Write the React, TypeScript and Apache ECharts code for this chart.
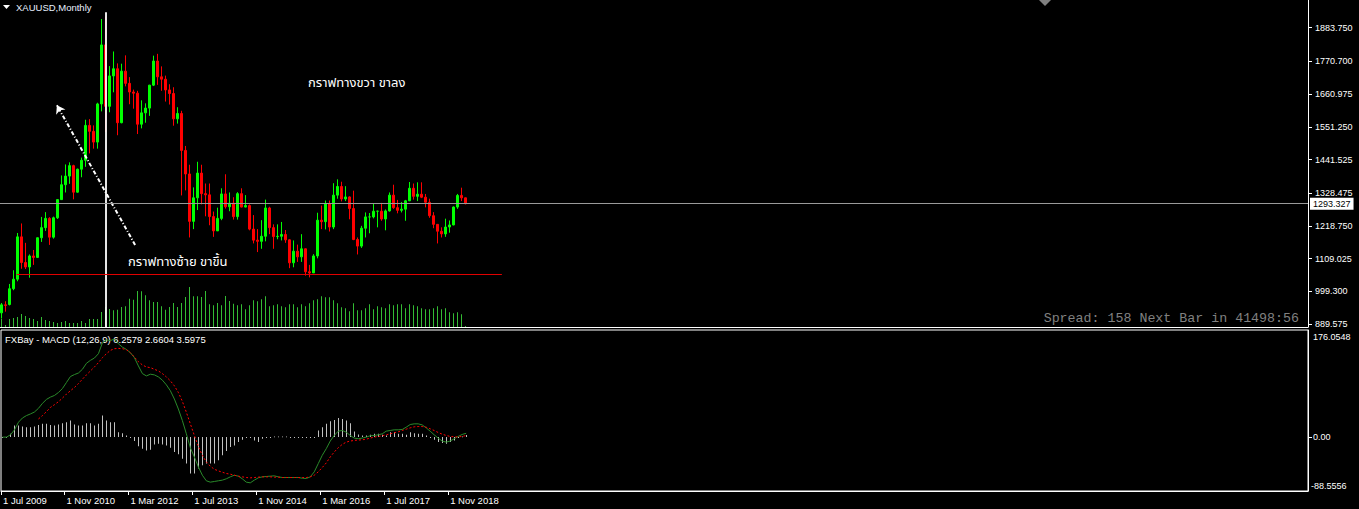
import React, { useEffect, useRef } from "react";
import * as echarts from "echarts";

// ---- XAUUSD monthly, Jul 2009 .. Mar 2019 (117 bars) ----
const opens = [
  927, 954, 955, 1008, 1040, 1182, 1096, 1081, 1118, 1113, 1179, 1213, 1244, 1181, 1246, 1307, 1357, 1386,
  1421, 1332, 1409, 1439, 1556, 1536, 1500, 1628, 1826, 1620, 1722, 1746,
  1565, 1738, 1697, 1668, 1664, 1560, 1598, 1614, 1691, 1772, 1719, 1711,
  1675, 1663, 1578, 1596, 1472, 1393, 1234, 1313, 1396, 1327, 1323, 1250,
  1202, 1244, 1326, 1283, 1295, 1250, 1327, 1282, 1287, 1208, 1171, 1167,
  1184, 1279, 1213, 1183, 1184, 1190, 1172, 1095, 1134, 1115, 1142, 1065,
  1061, 1118, 1238, 1233, 1293, 1215, 1322, 1351, 1309, 1316, 1277, 1173,
  1151, 1211, 1249, 1249, 1268, 1268, 1242, 1269, 1322, 1280, 1271, 1275,
  1303, 1345, 1318, 1325, 1315, 1298, 1253, 1224, 1201, 1192, 1215, 1222,
  1282, 1321, 1313,
];
const highs = [
  960, 966, 1024, 1070, 1195, 1227, 1162, 1123, 1138, 1180, 1249, 1265, 1248, 1250, 1308, 1388, 1425, 1432,
  1424, 1411, 1448, 1575, 1577, 1556, 1632, 1913, 1921, 1755, 1804, 1764,
  1763, 1791, 1718, 1676, 1672, 1640, 1630, 1692, 1790, 1796, 1754, 1723,
  1694, 1684, 1617, 1605, 1487, 1424, 1348, 1434, 1424, 1361, 1361, 1267,
  1280, 1345, 1392, 1331, 1315, 1332, 1345, 1322, 1291, 1255, 1208, 1238,
  1307, 1283, 1224, 1224, 1232, 1205, 1174, 1170, 1156, 1191, 1143, 1088,
  1124, 1263, 1287, 1304, 1304, 1362, 1375, 1367, 1352, 1318, 1337, 1180,
  1219, 1264, 1262, 1295, 1270, 1296, 1274, 1331, 1357, 1306, 1299, 1306,
  1366, 1361, 1365, 1365, 1326, 1310, 1265, 1225, 1214, 1243, 1237, 1284,
  1326, 1347, 1314,
];
const lows = [
  908, 931, 952, 1003, 1033, 1075, 1074, 1045, 1088, 1111, 1165, 1202, 1155, 1176, 1242, 1306, 1331, 1360,
  1308, 1330, 1382, 1417, 1462, 1478, 1478, 1603, 1534, 1600, 1667, 1523,
  1563, 1687, 1627, 1612, 1527, 1546, 1565, 1588, 1688, 1692, 1672, 1636,
  1626, 1555, 1562, 1321, 1338, 1180, 1208, 1272, 1291, 1251, 1221, 1182,
  1202, 1238, 1277, 1268, 1240, 1240, 1281, 1281, 1204, 1160, 1131, 1142,
  1167, 1191, 1142, 1174, 1170, 1162, 1077, 1080, 1098, 1098, 1052, 1046,
  1061, 1110, 1208, 1207, 1200, 1208, 1310, 1301, 1302, 1241, 1171, 1123,
  1145, 1180, 1194, 1244, 1214, 1236, 1204, 1267, 1276, 1261, 1264, 1236,
  1302, 1307, 1302, 1312, 1281, 1246, 1211, 1160, 1180, 1182, 1196, 1221,
  1276, 1302, 1291,
];
const closes = [
  954, 952, 1008, 1040, 1182, 1096, 1081, 1118, 1113, 1179, 1213, 1244, 1181, 1246, 1307, 1357, 1386, 1421,
  1332, 1409, 1439, 1556, 1536, 1500, 1628, 1826, 1620, 1722, 1746, 1565,
  1738, 1697, 1668, 1664, 1560, 1598, 1614, 1691, 1772, 1719, 1711, 1675,
  1663, 1578, 1596, 1472, 1393, 1234, 1313, 1396, 1327, 1323, 1250, 1202,
  1244, 1326, 1283, 1295, 1250, 1327, 1282, 1287, 1208, 1171, 1167, 1184,
  1279, 1213, 1183, 1184, 1190, 1172, 1095, 1134, 1115, 1142, 1065, 1061,
  1118, 1238, 1233, 1293, 1215, 1322, 1351, 1309, 1316, 1277, 1173, 1151,
  1211, 1249, 1249, 1268, 1268, 1242, 1269, 1322, 1280, 1271, 1275, 1303,
  1345, 1318, 1325, 1315, 1298, 1253, 1224, 1201, 1192, 1215, 1222, 1282,
  1321, 1313, 1293.327,
];
// tick volume (relative units)
const volumes = [
  8, 2, 8, 9, 10, 13, 11, 9, 8, 6, 10, 7, 6, 5, 4, 5, 6, 4, 4, 4,
  6, 4, 8, 8, 8, 15, 20, 18, 16.7, 17.3, 20, 20.7, 28.3, 27.3, 36, 35.7, 31.7, 26.7, 25, 25,
  20.7, 17.3, 20, 24, 20, 24, 30, 40, 30.7, 30.7, 30, 36, 22.7, 21.7, 24, 21.7, 31, 26, 23.3, 21.7,
  22.7, 17.7, 21.7, 26.7, 25.7, 27.7, 30.7, 20.7, 21.7, 22.7, 20.7, 19.7, 22.7, 22.7, 19.7, 22.7, 20.7, 23.7, 26.7, 27.7,
  30.7, 29.7, 29.7, 26.7, 23.7, 19.7, 18.7, 15.7, 23.7, 16.7, 16.7, 18.7, 22.7, 17.7, 20.7, 19.7, 18.7, 22.7, 21.7, 22.7,
  22.7, 18.7, 22.7, 21.7, 20.7, 18.7, 17.7, 17.7, 18.7, 20.7, 17.7, 18.7, 14.7, 13.7, 14.7, 12.7, 1,
];
// MACD (12,26,9) main line
const macdMain = [
  0, 0, 3.8, 12.0, 24.5, 31.5, 35.4, 38.1, 41.3, 47.3, 55.5, 62.0, 65.8, 68.5, 73.4, 79.9, 89.8, 99.6, 102.8, 105.4,
  111.5, 121.3, 126.2, 130.0, 137.1, 155.0, 159.9, 158.8, 161.0, 153.4, 147.9, 144.2, 138.7, 130.6, 117.0, 104.4, 100.6, 103.4, 102.3, 99.0,
  93.6, 85.9, 76.2, 62.6, 46.2, 27.2, 5.4, -17.4, -32.6, -48.9, -62.6, -71.8, -74.0, -72.9, -71.8, -70.7, -68.5, -65.3, -62.6, -64.2,
  -68.5, -74.0, -75.1, -70.7, -66.9, -65.3, -64.7, -64.2, -63.6, -65.3, -66.4, -66.4, -66.4, -66.4, -66.4, -67.5, -68.0, -65.3, -57.1, -43.5,
  -29.9, -19.0, -6.5, 2.7, 9.8, 10.9, 8.2, 2.7, -1.6, -2.7, -1.6, 0, 2.2, 2.7, 3.8, 5.4, 9.8, 10.9, 12.0, 12.0,
  12.5, 16.3, 20.7, 21.8, 21.8, 20.1, 15.2, 9.8, 3.8, -1.6, -6.5, -8.2, -6.5, -2.7, 1.1, 4.4, 6.2579,
];
// signal line (starts at bar 9)
const macdSignal = [
  null, null, null, null, null, null, null, null, null, 29.9, 35.4, 41.9, 48.9, 53.3, 58.2, 64.2, 70.7, 76.2, 81.6, 88.1,
  95.2, 102.3, 108.8, 115.3, 122.4, 130.6, 137.1, 142.6, 145.3, 145.8, 145.3, 143.6, 138.7, 131.6, 124.0, 118.6, 115.3, 114.2, 111.5, 108.8,
  104.4, 99.0, 92.5, 84.3, 73.4, 58.8, 40.8, 21.8, 2.7, -15.2, -29.9, -40.8, -47.9, -52.8, -55.5, -57.7, -59.8, -60.9, -62.6, -64.2,
  -65.3, -66.4, -66.9, -66.4, -65.8, -65.3, -65.3, -65.3, -65.8, -65.8, -66.4, -66.4, -66.4, -66.4, -66.4, -66.4, -66.4, -65.3, -62.6, -57.1,
  -50.0, -42.4, -32.6, -24.5, -17.4, -12.0, -8.2, -6.5, -5.4, -4.9, -4.4, -3.3, -1.6, 0, 1.1, 2.2, 3.8, 5.4, 7.1, 8.7,
  10.9, 13.1, 15.2, 16.9, 17.4, 17.4, 16.3, 13.6, 10.9, 7.6, 4.9, 2.7, 1.1, 0.5, 0.5, 1.1, 2.6604,
];
// histogram
const macdHist = [
  0, 0, 5.4, 19.0, 19.0, 17.4, 16.3, 16.3, 17.4, 20.1, 21.8, 21.8, 20.1, 19.0, 20.7, 22.8, 24.5, 27.2, 20.7, 19.0,
  19.0, 22.8, 22.8, 19.0, 21.8, 35.4, 27.2, 24.5, 24.5, 8.2, 6.5, 2.7, 0, -6.5, -15.2, -19.0, -21.8, -20.7, -12.0, -10.9,
  -12.0, -13.6, -17.4, -24.5, -28.3, -35.4, -43.5, -59.8, -59.8, -51.7, -46.2, -43.5, -43.5, -43.5, -38.1, -29.9, -22.8, -16.3, -13.6, -8.2,
  -4.4, -1.6, -1.1, -5.4, -8.2, -2.7, -1.6, 0, 1.1, 1.1, 1.1, 1.1, 0, -1.1, 0, 0, 0, 0, -1.6, 10.9,
  16.3, 21.8, 26.1, 28.3, 31.6, 29.9, 27.2, 22.8, 9.2, 4.4, 2.7, 2.7, 3.8, 5.4, 5.4, 3.8, 2.7, 8.2, 8.2, 5.4,
  5.4, 3.8, 8.2, 6.5, 5.4, 5.4, 2.7, 0, -4.4, -8.2, -9.8, -10.9, -8.2, -5.4, -1.6, 1.1, 3.5975,
];

const priceTicks = [889.575, 999.3, 1109.025, 1218.75, 1328.475, 1441.525, 1551.25, 1660.975, 1770.7, 1883.75];
const xTickIdx = [0, 16, 32, 48, 64, 80, 96, 112];
const xTickLabels = ["1 Jul 2009", "1 Nov 2010", "1 Mar 2012", "1 Jul 2013", "1 Nov 2014", "1 Mar 2016", "1 Jul 2017", "1 Nov 2018"];
const macdMax = 176.0548;
const macdMin = -88.5556;
const bidPrice = 1293.327;
const supportLevel = 1056;

const FONT = '"Liberation Sans", Arial, sans-serif';
const THAI = '"Noto Sans Thai", "Noto Sans Thai UI", "Loma", "Garuda", "Noto Sans", "DejaVu Sans", sans-serif';

function stickRenderer(color: string) {
  return (params: any, api: any) => {
    const x = api.value(0);
    const v = api.value(1);
    const p = api.coord([x, v]);
    const b = api.coord([x, 0]);
    const top = Math.min(p[1], b[1]);
    const h = Math.max(Math.abs(b[1] - p[1]), 0.8);
    return {
      type: "rect",
      shape: { x: Math.floor(p[0]), y: top, width: 1, height: h },
      style: { fill: color },
      silent: true,
    };
  };
}

export default function App() {
  const ref = useRef<HTMLDivElement>(null);
  useEffect(() => {
    const chart = echarts.init(ref.current!, null, { renderer: "svg" });
    const xMin = -0.375;
    const xMax = 326.625;
    const pMin = 879.6;
    const pMax = 1976.7;
    const candles = closes.map((c, i) => [i, opens[i], c, lows[i], highs[i]]);
    const vols = volumes.map((v, i) => [i, v]);
    const mainL = macdMain.map((v, i) => [i, v]);
    const sigL = macdSignal.map((v, i) => (v === null ? [i, null] : [i, v]));
    const hist = macdHist.map((v, i) => [i, v]);
    const xTickPos = xTickIdx.map((i) => (i === 0 ? xMin : i - 0.5));
    const hidden = { show: false };

    const option: any = {
      animation: false,
      backgroundColor: "#000",
      textStyle: { fontFamily: FONT },
      grid: [
        { left: 0, right: 51, top: 0, height: 327, show: false },
        { left: 0, right: 51, top: 330, height: 161, show: true, borderColor: "#fff", borderWidth: 1, backgroundColor: "transparent" },
      ],
      xAxis: [
        {
          type: "value", gridIndex: 0, min: xMin, max: xMax, position: "bottom",
          axisLine: { show: true, onZero: false, lineStyle: { color: "#fff", width: 1 } },
          axisTick: hidden, axisLabel: hidden, splitLine: hidden,
        },
        {
          type: "value", gridIndex: 1, min: xMin, max: xMax, position: "bottom",
          axisLine: { show: true, onZero: false, lineStyle: { color: "#fff", width: 1 } },
          axisTick: { show: true, customValues: xTickPos, length: 4, inside: false, lineStyle: { color: "#fff" } },
          axisLabel: {
            show: true, customValues: xTickPos, color: "#fff", fontSize: 9.5, fontFamily: FONT, align: "left", margin: 4,
            padding: [0, 0, 0, 2],
            formatter: (v: number) => xTickLabels[Math.round((v + 0.5) / 16)] ?? "",
          },
          splitLine: hidden,
        },
      ],
      yAxis: [
        {
          type: "value", gridIndex: 0, position: "right", min: pMin, max: pMax,
          axisLine: { show: true, onZero: false, lineStyle: { color: "#fff" } },
          axisTick: { show: true, customValues: priceTicks, length: 4, lineStyle: { color: "#fff" } },
          axisLabel: {
            show: true, customValues: priceTicks, color: "#fff", fontSize: 9, fontFamily: FONT, margin: 7,
            formatter: (v: number) => v.toFixed(3),
          },
          splitLine: hidden,
        },
        {
          type: "value", gridIndex: 0, position: "right", min: 0, max: 327, show: false,
          axisLine: hidden, axisTick: hidden, axisLabel: hidden, splitLine: hidden,
        },
        {
          type: "value", gridIndex: 1, position: "right", min: macdMin, max: macdMax,
          axisLine: { show: true, onZero: false, lineStyle: { color: "#fff" } },
          axisTick: { show: true, customValues: [0], length: 4, lineStyle: { color: "#fff" } },
          axisLabel: {
            show: true, customValues: [0], color: "#fff", fontSize: 9, fontFamily: FONT, margin: 5,
            formatter: (v: number) => v.toFixed(2),
          },
          splitLine: hidden,
        },
      ],
      series: [
        {
          type: "custom", name: "Volume", xAxisIndex: 0, yAxisIndex: 1, data: vols,
          encode: { x: 0, y: 1 }, renderItem: stickRenderer("#33bb33"), silent: true, clip: true,
        },
        {
          type: "candlestick", name: "XAUUSD", xAxisIndex: 0, yAxisIndex: 0, data: candles,
          encode: { x: 0, y: [1, 2, 3, 4] }, barWidth: 2,
          itemStyle: { color: "#00ff00", color0: "#ff0000", borderColor: "#00ff00", borderColor0: "#ff0000", borderWidth: 1 },
          markLine: {
            silent: true, symbol: ["none", "none"], animation: false,
            data: [
              [
                { coord: [26.125, 1936], lineStyle: { color: "#ffffff", width: 2, type: "solid", opacity: 0.9 }, label: { show: false } },
                { coord: [26.125, pMin] },
              ],
              [
                { coord: [3.8, supportLevel], lineStyle: { color: "#e00000", width: 1, type: "solid" }, label: { show: false } },
                { coord: [125.1, supportLevel] },
              ],
              [
                { coord: [33.4, 1155], lineStyle: { color: "#ffffff", width: 2, type: [4, 2, 1, 2] }, label: { show: false }, symbol: "none" },
                { coord: [13.85, 1624], symbol: "arrow", symbolSize: 8 },
              ],
              {
                yAxis: bidPrice,
                lineStyle: { color: "#9a9a9a", width: 1, type: "solid" },
                label: {
                  show: true, position: "end", distance: 2, formatter: bidPrice.toFixed(3), color: "#000",
                  backgroundColor: "#fff", padding: [2, 3, 1, 3], fontSize: 9, fontFamily: FONT,
                },
              },
            ],
          },
        },
        {
          type: "custom", name: "Histogram", xAxisIndex: 1, yAxisIndex: 2, data: hist,
          encode: { x: 0, y: 1 }, renderItem: stickRenderer("#c0c0c0"), silent: true,
        },
        {
          type: "line", name: "MACD", xAxisIndex: 1, yAxisIndex: 2, data: mainL, showSymbol: false,
          lineStyle: { color: "#2a8a2a", width: 1 }, silent: true,
        },
        {
          type: "line", name: "Signal", xAxisIndex: 1, yAxisIndex: 2, data: sigL, showSymbol: false, connectNulls: false,
          lineStyle: { color: "#ff0000", width: 1, type: [2, 2] }, silent: true,
        },
      ],
      graphic: [
        { type: "polygon", shape: { points: [[3, 5], [10, 5], [6.5, 9]] }, style: { fill: "#fff" } },
        { type: "text", x: 16, y: 2, style: { text: "XAUUSD,Monthly", fill: "#e8f0ff", font: `9.5px ${FONT}` } },
        { type: "polygon", shape: { points: [[1039, 0], [1051, 0], [1045, 6]] }, style: { fill: "#808080" } },
        { type: "text", x: 308, y: 76, style: { text: "กราฟทางขวา ขาลง", fill: "#fff", font: `13px ${THAI}` } },
        { type: "text", x: 128, y: 255, style: { text: "กราฟทางซ้าย ขาขึ้น", fill: "#fff", font: `13px ${THAI}` } },
        { type: "text", x: 1299, y: 312, style: { text: "Spread: 158 Next Bar in 41498:56", fill: "#808080", font: `13.3px "Liberation Mono", "DejaVu Sans Mono", monospace`, textAlign: "right" } },
        { type: "text", x: 5, y: 334, style: { text: "FXBay - MACD (12,26,9) 6.2579 2.6604 3.5975", fill: "#fff", font: `9.5px ${FONT}` } },
        { type: "text", x: 1313, y: 332, style: { text: macdMax.toFixed(4), fill: "#fff", font: `9px ${FONT}` } },
        { type: "text", x: 1311, y: 481, style: { text: macdMin.toFixed(4), fill: "#fff", font: `9px ${FONT}` } },
      ],
    };
    chart.setOption(option);
    return () => chart.dispose();
  }, []);
  return (
    <div
      ref={ref}
      style={{ position: "fixed", left: 0, top: 0, width: 1359, height: 509, background: "#000" }}
    />
  );
}
